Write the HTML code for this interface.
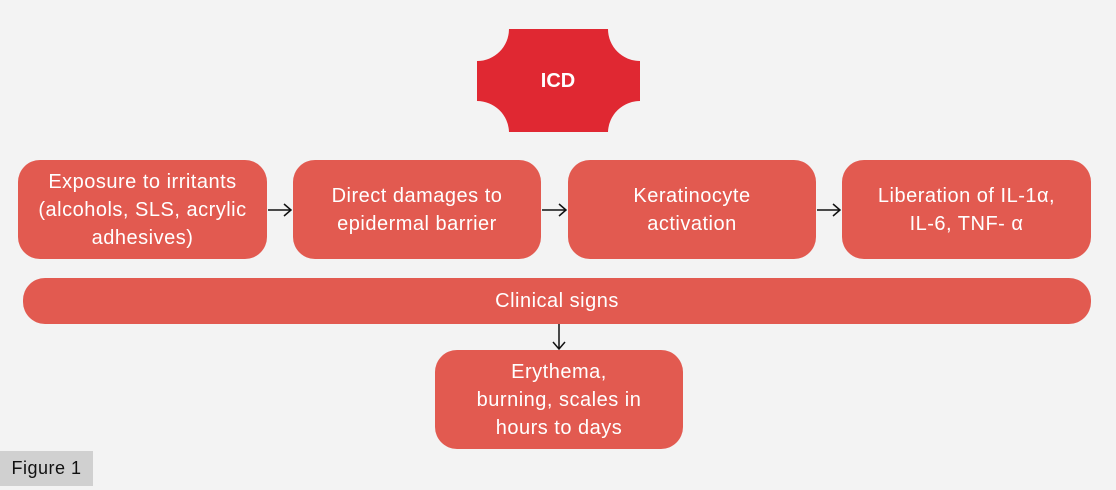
<!DOCTYPE html>
<html><head><style>
body{margin:0;width:1116px;height:490px;background:#f3f3f3;font-family:"Liberation Sans",sans-serif;position:relative;overflow:hidden}
.b{position:absolute;background:#e25a50;color:#fff;border-radius:22px;display:flex;align-items:center;justify-content:center;text-align:center;font-size:20px;letter-spacing:0.5px;line-height:28px}
.fig{position:absolute;left:0;top:451px;width:93px;height:35px;background:#d0d0d0;color:#111;font-size:18px;letter-spacing:0.5px;display:flex;align-items:center;justify-content:center}
svg{position:absolute;left:0;top:0}
</style></head><body>
<svg width="1116" height="490">
<path d="M509,29 H608 A32,32 0 0 0 640,61 V101 A32,32 0 0 0 608,132 H509 A32,32 0 0 0 477,101 V61 A32,32 0 0 0 509,29 Z" fill="#e02832"/>
<text x="558" y="87" fill="#fff" font-size="20" font-weight="bold" text-anchor="middle" font-family="Liberation Sans">ICD</text>
<g stroke="#111" stroke-width="1.5" fill="none">
<path d="M268,210 H291 M284,204 L291,210 L284,216"/>
<path d="M542,210 H566 M559,204 L566,210 L559,216"/>
<path d="M817,210 H840 M833,204 L840,210 L833,216"/>
<path d="M559,324 V349 M553,342 L559,349 L565,342"/>
</g>
</svg>
<div class="b" style="left:18px;top:160px;width:249px;height:99px">Exposure to irritants<br>(alcohols, SLS, acrylic<br>adhesives)</div>
<div class="b" style="left:293px;top:160px;width:248px;height:99px">Direct damages to<br>epidermal barrier</div>
<div class="b" style="left:568px;top:160px;width:248px;height:99px">Keratinocyte<br>activation</div>
<div class="b" style="left:842px;top:160px;width:249px;height:99px">Liberation of IL-1α,<br>IL-6, TNF- α</div>
<div class="b" style="left:23px;top:278px;width:1068px;height:46px">Clinical signs</div>
<div class="b" style="left:435px;top:350px;width:248px;height:99px">Erythema,<br>burning, scales in<br>hours to days</div>
<div class="fig">Figure 1</div>
</body></html>
